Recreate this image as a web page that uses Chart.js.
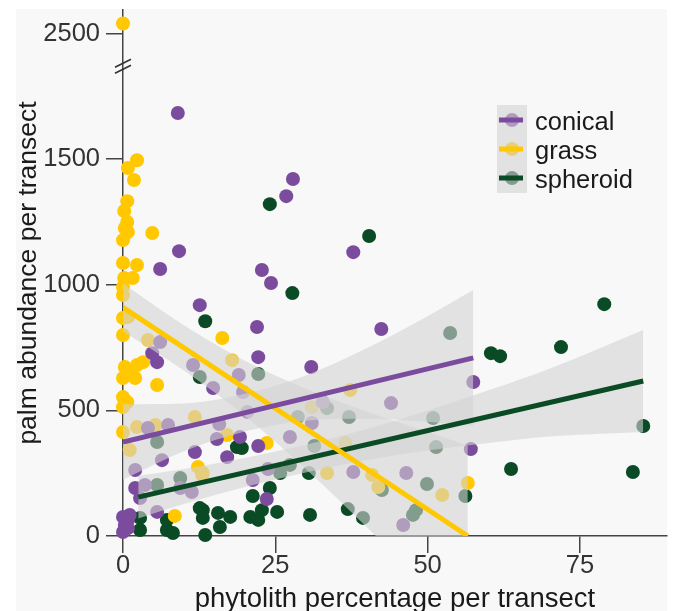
<!DOCTYPE html>
<html><head><meta charset="utf-8">
<script src="https://cdn.jsdelivr.net/npm/chart.js@4"></script>
<style>html,body{margin:0;padding:0;background:#fff}canvas{display:block}</style>
</head><body>
<canvas id="c" width="676" height="611"></canvas>
<script>
const seriesNames = ['conical', 'grass', 'spheroid'];
const seriesColors = ['#7b4b9e', '#ffc800', '#0a4a24'];
const bandColor = 'rgba(212,212,212,0.6)';

const conicalX = [9.0,9.2,6.1,12.6,27.9,26.8,37.8,22.8,24.3,22.0,42.4,22.2,30.9,6.1,4.8,5.6,11.5,14.8,19.0,19.7,20.4,32.8,44.0,15.8,15.4,19.2,17.1,22.2,27.4,31.0,23.8,21.3,23.6,37.8,46.5,46.0,57.5,57.1,7.4,4.1,11.8,6.4,2.0,2.0,3.6,2.8,9.4,11.3,5.6,0,0.8,0,0.8,1.1,0.3];
const conicalY = [1684,1134,1063,919,1421,1353,1130,1059,1007,832,824,712,673,772,728,692,681,589,641,573,494,533,529,446,386,394,314,358,394,450,267,223,147,255,251,44,613,346,442,430,334,302,263,191,203,151,191,175,96,76,64,16,32,84,44];

const grassX = [0,2.3,0.8,1.8,0.7,0.2,0.7,0.3,0.8,0,4.8,0,2.3,0.2,1.6,0,0,0.8,0,0,4.1,16.3,3.3,0.3,0.7,2.3,0,2.0,5.6,0,0.7,0,0,2.3,5.3,1.1,11.8,12.3,13.0,8.5,17.9,17.1,23.6,31.0,37.3,36.5,33.5,41.9,52.4,56.6,40.9,13.1];
const grassY = [2540,1496,1465,1417,1333,1294,1250,1226,1210,1178,1206,1087,1079,1027,1027,991,959,872,868,800,780,788,692,673,653,681,629,629,601,553,533,513,414,434,442,342,474,275,243,80,700,402,370,513,581,370,251,195,163,211,243,251];

const spheroidX = [13.5,24.1,27.8,40.4,60.4,61.9,71.9,79.0,63.7,83.7,85.4,30.7,36.9,39.4,13.1,13.1,13.5,15.6,17.6,15.9,20.9,22.2,22.8,25.3,24.1,21.3,18.7,19.5,2.8,2.8,7.2,7.2,8.2,12.6,12.6,22.2,33.5,28.7,37.1,50.9,51.4,53.7,31.4,25.8,27.4,30.5,49.9,42.5,56.2,47.6,5.6,5.6,9.4,48.1];
const spheroidY = [855,1321,967,1194,728,716,752,923,267,255,438,84,107,72,103,72,4,92,76,36,76,64,103,96,191,159,354,350,24,72,24,64,12,111,633,645,509,474,474,470,354,808,358,251,283,251,207,183,159,84,374,203,231,103];

// fitted lines (end points) and confidence bands
const conicalFitX = [0, 57.5], conicalFitY = [374, 709];
const grassFitX = [0, 56.6], grassFitY = [910, 0];
const spheroidFitX = [2.5, 85.4], spheroidFitY = [155, 617];

const conicalBandX = [0,10,20,30,40,50,57.5];
const conicalBandUpper = [524,527,566,639,747,875,979];
const conicalBandLower = [224,337,416,459,467,455,439];
const grassBandX = [0,10,20,30,40,50,56.6];
const grassBandUpper = [1005,839,698,587,496,415,360];
const grassBandLower = [815,659,478,267,36,-205,-360];
const spheroidBandX = [2.5,10,20,30,40,50,60,70,85.4];
const spheroidBandUpper = [240,267,311,363,426,500,580,666,820];
const spheroidBandLower = [70,127,195,253,302,340,370,396,414];

const xTicks = [0, 25, 50, 75];
const yTicks = [0, 500, 1000, 1500, 2500];
const yBreakAt = 2000;   // values above the break are drawn lower by the gap
const yBreakGap = 500;

function shiftY(v) { return v > yBreakAt ? v - yBreakGap : v; }
function pts(xs, ys) { return xs.map((x, i) => ({ x: x, y: shiftY(ys[i]) })); }

const FONT = "'Liberation Sans', Arial, Helvetica, sans-serif";
Chart.defaults.font.family = FONT;

function scatterSet(i, xs, ys) {
  return { type: 'scatter', label: seriesNames[i], data: pts(xs, ys), backgroundColor: seriesColors[i],
    borderWidth: 0, pointRadius: 7, pointHoverRadius: 7, clip: false, order: 3 };
}
function bandEdge(xs, ys, fillTarget) {
  return { type: 'line', data: pts(xs, ys), borderWidth: 0, borderColor: 'rgba(0,0,0,0)', pointRadius: 0,
    backgroundColor: bandColor, fill: fillTarget, cubicInterpolationMode: 'monotone', order: 2 };
}
function fitLine(i, xs, ys) {
  return { type: 'line', data: pts(xs, ys), borderColor: seriesColors[i], borderWidth: 5, pointRadius: 0,
    fill: false, order: 1, borderCapStyle: 'butt' };
}

const datasets = [
  scatterSet(0, conicalX, conicalY),      // 0
  scatterSet(1, grassX, grassY),          // 1
  scatterSet(2, spheroidX, spheroidY),    // 2
  bandEdge(conicalBandX, conicalBandUpper, false),   // 3
  bandEdge(conicalBandX, conicalBandLower, 3),       // 4
  bandEdge(grassBandX, grassBandUpper, false),       // 5
  bandEdge(grassBandX, grassBandLower, 5),           // 6
  bandEdge(spheroidBandX, spheroidBandUpper, false), // 7
  bandEdge(spheroidBandX, spheroidBandLower, 7),     // 8
  fitLine(0, conicalFitX, conicalFitY),
  fitLine(1, grassFitX, grassFitY),
  fitLine(2, spheroidFitX, spheroidFitY)
];

const panelBg = {
  id: 'panelBg',
  beforeDraw(chart) {
    const ctx = chart.ctx;
    ctx.save();
    ctx.fillStyle = '#f8f8f8';
    ctx.fillRect(16, 9, 651, 602);
    ctx.restore();
  }
};

const breakMark = {
  id: 'breakMark',
  afterDraw(chart) {
    const ctx = chart.ctx, y = chart.scales.y, x = chart.scales.x;
    const px = x.getPixelForValue(0);
    const py = y.getPixelForValue(1870);
    ctx.save();
    ctx.strokeStyle = '#333';
    ctx.lineWidth = 1.6;
    [-3, 3].forEach(d => {
      ctx.beginPath();
      ctx.moveTo(px - 8, py + d + 4);
      ctx.lineTo(px + 8, py + d - 4);
      ctx.stroke();
    });
    ctx.restore();
  }
};

const keyLegend = {
  id: 'keyLegend',
  afterDraw(chart) {
    const ctx = chart.ctx;
    const keyX = 497, keyW = 30, keyTop = 105, keyH = 88;
    const rowY = [120, 149, 178];
    ctx.save();
    seriesNames.forEach((n, i) => {
      ctx.beginPath();
      ctx.fillStyle = seriesColors[i];
      ctx.arc(keyX + keyW / 2, rowY[i], 7, 0, Math.PI * 2);
      ctx.fill();
    });
    ctx.fillStyle = bandColor;
    ctx.fillRect(keyX, keyTop, keyW, keyH);
    seriesNames.forEach((n, i) => {
      ctx.strokeStyle = seriesColors[i];
      ctx.lineWidth = 5;
      ctx.beginPath();
      ctx.moveTo(keyX + 2, rowY[i]);
      ctx.lineTo(keyX + keyW - 4, rowY[i]);
      ctx.stroke();
      ctx.fillStyle = '#1a1a1a';
      ctx.font = '25.5px ' + FONT;
      ctx.textBaseline = 'middle';
      ctx.textAlign = 'left';
      ctx.fillText(n, 535, rowY[i] + 3);
    });
    ctx.restore();
  }
};

new Chart(document.getElementById('c'), {
  type: 'scatter',
  data: { datasets: datasets },
  options: {
    responsive: false,
    animation: false,
    events: [],
    devicePixelRatio: 1,
    layout: { padding: { top: 10, right: 9, left: 0, bottom: 0 } },
    plugins: { legend: { display: false }, tooltip: { enabled: false } },
    scales: {
      x: {
        type: 'linear', min: 0, max: 89.3,
        afterBuildTicks: s => { s.ticks = xTicks.map(v => ({ value: v })); },
        afterFit: s => { s.height = 75; s.paddingLeft = 0; s.paddingRight = 0; },
        grid: { drawOnChartArea: false, drawTicks: true, tickLength: 17, color: '#444', lineWidth: 1.5 },
        border: { display: true, color: '#444', width: 1.5 },
        ticks: { color: '#333', font: { size: 25.5, lineHeight: 1 }, padding: 0, maxRotation: 0,
          callback: v => String(v) },
        title: { display: true, text: 'phytolith percentage per transect', color: '#1a1a1a',
          font: { size: 27.5, lineHeight: 1 }, padding: { top: 0, bottom: -2 } }
      },
      y: {
        type: 'linear', min: 0, max: 2094,
        afterBuildTicks: s => { s.ticks = yTicks.map(v => ({ value: shiftY(v) })); },
        afterFit: s => { s.width = 123; s.paddingTop = 0; s.paddingBottom = 0; },
        grid: { drawOnChartArea: false, drawTicks: true, tickLength: 17, color: '#444', lineWidth: 1.5 },
        border: { display: true, color: '#444', width: 1.5 },
        ticks: { color: '#333', font: { size: 25.5, lineHeight: 1 }, padding: 6,
          callback: v => { const k = yTicks.findIndex(t => shiftY(t) === v); return k >= 0 ? String(yTicks[k]) : ''; } },
        title: { display: true, text: 'palm abundance per transect', color: '#1a1a1a',
          font: { size: 26.5, lineHeight: 1 }, padding: { top: 15, bottom: 0 } }
      }
    }
  },
  plugins: [panelBg, breakMark, keyLegend]
});
</script>
</body></html>
